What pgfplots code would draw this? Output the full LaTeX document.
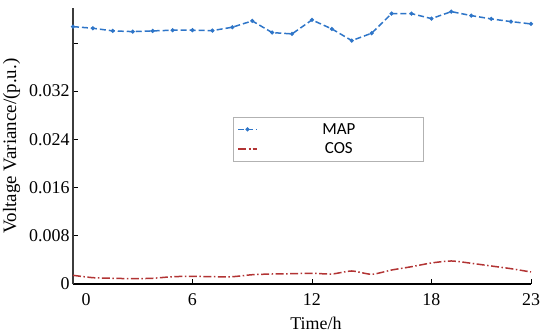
\documentclass[border=0pt]{standalone}
\usepackage{fontspec}
\setmainfont{Liberation Serif}
\newfontfamily\legfont{Carlito}
\usepackage{pgfplots}
\pgfplotsset{compat=1.18}
\usetikzlibrary{calc}
\definecolor{mapblue}{RGB}{46,117,200}
\definecolor{cosred}{RGB}{178,52,52}
\definecolor{axgray}{RGB}{60,60,60}
\begin{document}
\begin{tikzpicture}
\begin{axis}[name=ax, scale only axis, width=458bp, height=276bp,
  xmin=0, xmax=23, ymin=0, ymax=0.0458,
  axis x line*=bottom, axis y line*=left,
  x axis line style={line width=1.2bp, black},
  y axis line style={line width=1.6bp, axgray},
  tick align=inside, major tick length=5bp,
  tick style={black, line width=0.8bp},
  xtick={0,6,12,18,23}, xticklabels={\hspace*{26bp}0,6,12,18,23},
  ytick={0,0.008,0.016,0.024,0.032,0.04},
  yticklabels={0,0.008,0.016,0.024,0.032,{}},
  tick label style={font=\fontsize{18}{21}\selectfont},
  xticklabel style={yshift=-6bp},
  label style={font=\fontsize{18}{21}\selectfont},
  xlabel={Time/h}, ylabel={Voltage Variance/(p.u.)},
  ylabel style={font=\fontsize{19}{22}\selectfont, yshift=2bp},
  xlabel style={xshift=14bp, yshift=-5bp},
  legend style={at={(rel axis cs:0.558,0.525)}, anchor=center, draw=gray!60, line width=0.8bp,
    font=\legfont\fontsize{17}{20}\selectfont, inner sep=4bp, row sep=3bp},
  legend image code/.code={\draw[mark repeat=2,mark phase=2,#1] plot coordinates {(0bp,0bp) (9.5bp,0bp) (19bp,0bp)};},
]
\addplot[mapblue, line width=1.5bp, dash pattern=on 6bp off 3bp, mark=*, mark size=1.2bp, mark options={solid}]
 coordinates {(0,0.04271) (1,0.04244) (2,0.04200) (3,0.04188) (4,0.04200) (5,0.04211)
  (6,0.04211) (7,0.04205) (8,0.04261) (9,0.04366) (10,0.04172) (11,0.04150)
  (12,0.04382) (13,0.04233) (14,0.04039) (15,0.04162) (16,0.04487) (17,0.04487)
  (18,0.04404) (19,0.04520) (20,0.04454) (21,0.04399) (22,0.04354) (23,0.04316)};
\addlegendentry{\makebox[158bp]{MAP}}
\addplot[cosred, line width=1.5bp, smooth, tension=0.4, dash pattern=on 8bp off 2.5bp on 1.5bp off 2.5bp]
 coordinates {(0,0.00144) (1,0.00105) (2,0.00095) (3,0.00088) (4,0.00095) (5,0.00121)
  (6,0.00128) (7,0.00121) (8,0.00121) (9,0.00154) (10,0.00166) (11,0.00171)
  (12,0.00178) (13,0.00166) (14,0.00216) (15,0.00161) (16,0.00232) (17,0.00287)
  (18,0.00349) (19,0.00382) (20,0.00344) (21,0.00299) (22,0.00254) (23,0.00199)};
\addlegendentry{\makebox[158bp]{COS}}
\end{axis}
\pgfresetboundingbox
\path[use as bounding box] ($(ax.south west)+(-73bp,-47bp)$) rectangle ($(ax.north east)+(19bp,8bp)$);
\end{tikzpicture}
\end{document}
